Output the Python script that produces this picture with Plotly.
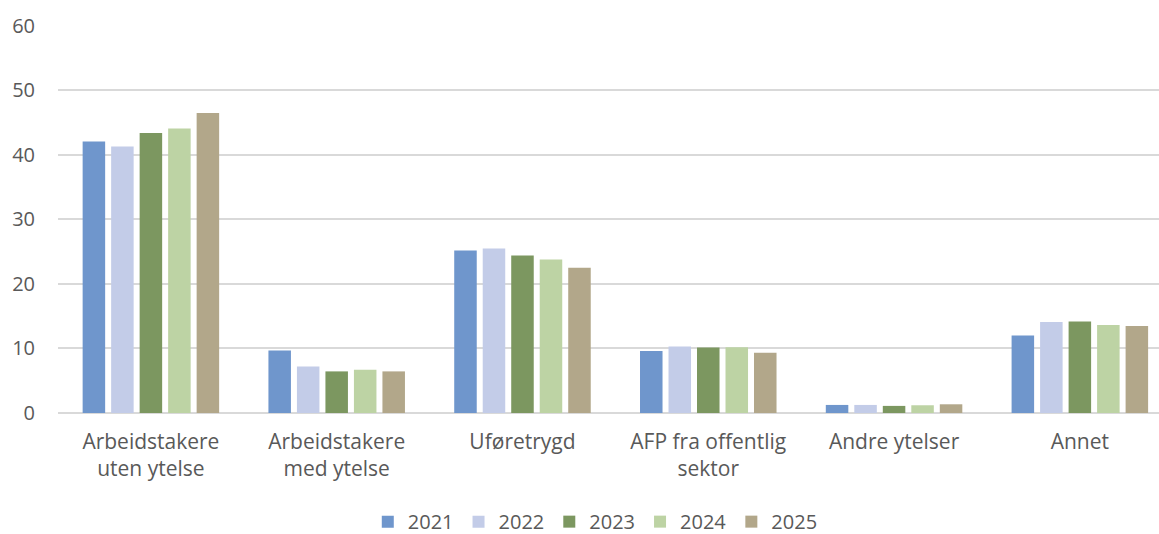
import plotly.graph_objects as go

categories = ["Arbeidstakere<br>uten ytelse", "Arbeidstakere<br>med ytelse", "Uføretrygd",
              "AFP fra offentlig<br>sektor", "Andre ytelser", "Annet"]
years = ["2021", "2022", "2023", "2024", "2025"]
values = {
    "2021": [42.1, 9.7, 25.2, 9.6, 1.25, 12.0],
    "2022": [41.3, 7.2, 25.5, 10.3, 1.25, 14.1],
    "2023": [43.4, 6.45, 24.4, 10.15, 1.1, 14.2],
    "2024": [44.1, 6.7, 23.8, 10.2, 1.2, 13.65],
    "2025": [46.5, 6.45, 22.5, 9.35, 1.35, 13.5],
}
colors = {"2021": "#6f96cc", "2022": "#c3cce8", "2023": "#7c9760",
          "2024": "#bdd3a4", "2025": "#b2a78a"}
yticks = [0, 10, 20, 30, 40, 50, 60]

fig = go.Figure()
for y in years:
    fig.add_trace(go.Bar(x=list(range(len(categories))), y=values[y], name=y,
                         marker=dict(color=colors[y], line=dict(width=0))))

fig.update_layout(
    width=1159, height=534,
    margin=dict(l=58, r=0, t=25, b=121, autoexpand=False),
    paper_bgcolor="white", plot_bgcolor="white",
    barmode="group", bargap=0.233, bargroupgap=0.21,
    font=dict(family="Open Sans, Liberation Sans, sans-serif", size=20, color="#595959"),
    showlegend=True,
    legend=dict(orientation="h", x=0.488, xanchor="center", y=-0.28, yanchor="middle",
                font=dict(size=20, color="#595959"), traceorder="normal",
                itemwidth=30),
    xaxis=dict(tickmode="array", tickvals=list(range(len(categories))), ticktext=categories,
               range=[-0.5, 5.426], showgrid=False, zeroline=False, showline=False,
               ticks="", ticklabelstandoff=14, automargin=False,
               tickfont=dict(size=21, color="#595959")),
    yaxis=dict(range=[0, 60.15], tickvals=yticks, showgrid=True, gridcolor="#d9d9d9",
               gridwidth=1.5, zeroline=True, zerolinecolor="#d9d9d9", zerolinewidth=1.5,
               ticks="", ticklabelstandoff=22, showline=False, automargin=False),
)
fig.write_html("out.html", config={"displayModeBar": False},
               post_script="document.body.style.margin='0';document.body.style.overflow='hidden';")
